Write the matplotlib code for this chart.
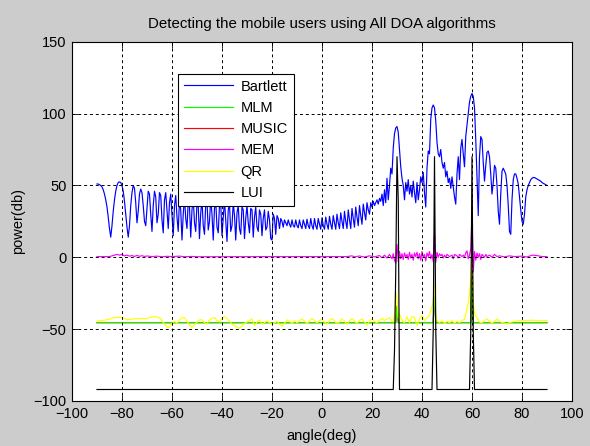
import numpy as np
import matplotlib
matplotlib.use("Agg")
import matplotlib.pyplot as plt

# ---------------- data ----------------
angles = np.arange(-90, 90.5, 0.5)   # angle grid (deg) of the Bartlett spectrum

bartlett = [
    # -90 .. -80.5
    51, 51, 50.5, 50, 49, 47, 44, 40, 35, 28, 20, 14, 22, 32, 40, 46, 50, 52, 52.5, 52,
    # -80 .. -70.5
    50, 46, 39, 30, 21, 14, 22, 36, 45, 50, 48, 38, 24, 32, 44, 47.5, 45, 36, 25, 22,
    # -70 .. -60.5
    34, 46, 44, 30, 18, 36, 46, 42, 24, 30, 45, 43, 26, 17, 40, 45, 32, 20, 38, 44,
    # -60 .. -50.5
    30, 15, 36, 43, 28, 18, 40, 33, 12, 30, 42, 27, 20, 39, 35, 14, 33, 41, 24, 18,
    # -50 .. -40.5
    38, 36, 13, 31, 40, 22, 16, 37, 39, 19, 25, 41, 30, 12, 34, 39, 21, 17, 36, 38,
    # -40 .. -30.5
    15, 28, 40, 26, 11, 33, 37, 18, 22, 38, 29, 12, 31, 36, 20, 16, 35, 33, 13, 27,
    # -30 .. -20.5
    36, 24, 17, 34, 33, 14, 28, 35, 21, 18, 33, 30, 15, 27, 33, 19, 21, 32, 26, 13,
    # -20 .. -10.5
    12, 30, 27, 16, 29, 27, 20, 27, 25, 21, 26, 24, 22, 26, 23, 21, 26, 22, 21, 26,
    # -10 .. -0.5
    22, 20.5, 26, 22, 20, 26, 23, 20, 26.5, 22, 20, 27, 22, 19.5, 27, 22, 19.5, 27, 23, 19.5,
    # 0 .. 9.5
    27.5, 22, 19.5, 28, 23, 19.5, 28.5, 23, 19.5, 29, 24, 19.5, 30, 24, 20, 31, 25, 20, 32, 25,
    # 10 .. 19.5
    20, 33, 26, 20, 34, 27, 21, 35, 28, 22, 36, 29, 23, 37, 31, 26, 38, 33, 30, 38,
    # 20 .. 29.5
    35, 39, 36, 38, 40, 37, 41, 39, 44, 36, 47, 38, 55, 40, 50, 62, 58, 76, 86, 90,
    # 30 .. 39.5
    91, 87, 75, 63, 55, 50, 40, 52, 46, 54, 44, 50, 42, 53, 45, 38, 52, 40, 47, 56,
    # 40 .. 49.5
    52, 59, 45, 35, 62, 74, 72, 96, 104, 106, 104, 95, 80, 72, 70, 75, 66, 62, 66, 56,
    # 50 .. 59.5
    60, 52, 55, 48, 56, 49, 42, 37, 58, 70, 54, 76, 82, 72, 63, 84, 92, 100, 108, 112,
    # 60 .. 69.5
    114, 112, 104, 82, 55, 29, 70, 84, 82, 66, 53, 64, 73, 74, 70, 58, 44, 52, 64, 62,
    # 70 .. 79.5
    50, 32, 23, 44, 60, 62, 60, 58, 50, 36, 18, 16, 40, 54, 58, 58, 55, 51, 42, 33,
    # 80 .. 90
    25, 23, 30, 42, 47, 50, 52, 54, 55, 55.5, 55.5, 55, 54.5, 54, 53.5, 53, 52, 51.5, 51, 50.5, 50,
]

mlm_ang = [-90, 29.5, 30, 30.5, 44.5, 45, 45.5, 59.5, 60, 60.5, 90]
mlm_val = [-45.5, -45.5, -34, -45.5, -45.5, -24, -45.5, -45.5, -14, -45.5, -45.5]

music_ang = [-90, 29.5, 30, 30.5, 44.5, 45, 45.5, 59.5, 60, 60.5, 90]
music_val = [-45.5, -45.5, -34, -45.5, -45.5, -24, -45.5, -45.5, -14, -45.5, -45.5]

mem_ang = [-90, -85, -84, -83, -82, -81, -80, -79, -78, -77, -76, -75, -74, -73, -72, -71,
           -70, -68, -66, -64, -62, -60, -57, -55, -52, -50, -20, 10, 12, 13, 15, 17, 19,
           21, 23, 24, 25, 26, 27, 28, 28.5, 29, 29.5, 30, 30.5, 31, 31.5, 32, 32.5, 33,
           33.5, 34, 34.5, 35, 35.5, 36, 36.5, 37, 37.5, 38, 38.5, 39, 39.5, 40, 40.5, 41,
           41.5, 42, 42.5, 43, 43.5, 44, 44.5, 45, 45.5, 46, 46.5, 47, 47.5, 48, 48.5, 49,
           49.5, 50, 51, 52, 52.5, 53, 54, 54.5, 55, 56, 56.5, 57, 57.5, 58, 58.5, 59, 59.5,
           60, 60.5, 61, 61.5, 62, 62.5, 63, 63.5, 64, 65, 65.5, 66, 67, 68, 69, 70, 71, 73,
           75, 77, 80, 82, 84, 86, 88, 90]
mem_val = [0.5, 0.5, 1, 1.5, 2, 1.5, 2, 1, 1.5, 0.8, 1.2, 0.6, 1.3, 0.7, 1.1, 0.6,
           0.9, 0.5, 0.8, 0.4, 0.7, 0.5, 0.8, 0.4, 0.6, 0.4, 0.5, 0.5, 1, 0.3, 0.9, 0.2, 1.0,
           0.3, 1.2, -0.3, 1.5, -0.5, 2, -1, 2.5, -2, -4, 9, -3, 4, -1, 2.5, -1.5, 3,
           0, 2, -1.5, 3.5, -0.5, 2, -2, 3, 0.5, 3.5, -1, 2.5, -2, 4, 0, 2,
           -2.5, 3, 0.5, 4, -1, 2, -3, 17, -3.5, 3.5, 0, 2.5, 1, 2, -0.5, 1.5,
           0, 2, 0.5, 1.5, -1, 2, 1, -0.5, 2, 0.5, 1.5, 0, 3, 4.5, -1, 1.5, 6,
           28.7, -10, 4, -2, 3, 0, 2.5, -1.5, 2, 0, 2, 0.5, 1.5, 0, 2, 0.5, 1, 0.3,
           1, 0.5, 0.8, 0.2, 1.5, 1.2, 0.5, 0.5]

qr_ang = [-90, -89, -88, -87, -86, -85, -84, -83, -82, -81, -80, -79, -78, -77, -76, -75,
          -74, -73, -72, -71, -70, -69, -68, -67, -66, -65, -64, -63, -62, -61, -60, -59,
          -58, -57, -56, -55, -54, -53, -52, -51, -50, -49, -48, -47, -46, -45, -44, -43,
          -42, -41, -40, -39, -38, -37, -36, -35, -34, -33, -32, -31, -30, -29, -28, -27,
          -26, -25, -24, -23, -22, -21, -20, -19, -18, -17, -16, -15, -14, -13, -12, -11,
          -10, -9, -8, -7, -6, -5, -4, -3, -2, -1, 0, 1, 2, 3, 4, 5, 6, 7, 8, 9, 10, 11,
          12, 13, 14, 15, 16, 17, 18, 19, 20, 21, 22, 23, 24, 25, 26, 27, 28, 28.5, 29,
          29.5, 30, 30.5, 31, 32, 33, 34, 35, 36, 37, 38, 39, 40, 41, 42, 43, 43.5, 44,
          44.5, 45, 45.5, 46, 47, 48, 49, 50, 51, 52, 53, 54, 55, 56, 57, 57.5, 58, 58.5,
          59, 59.5, 60, 60.5, 61, 62, 63, 64, 65, 66, 67, 68, 69, 70, 71, 72, 73, 74, 75,
          76, 77, 78, 79, 80, 82, 84, 86, 88, 90]
qr_val = [-44.2, -44.2, -44, -43.8, -43.5, -43, -42.5, -42, -41.8, -41.9, -42, -42.6, -43.5,
          -43.4, -43, -42.8, -42.8, -42.7, -42.6, -42.6, -42.6, -42, -41.5, -41.3, -41.5,
          -42, -44, -46.5, -48.5, -48.8, -46, -44.5, -45.8, -43.5, -42, -42, -44.5, -47,
          -48.8, -47, -45, -43.5, -43.5, -45.5, -46.5, -43.5, -42.5, -42, -44, -45, -42.5,
          -41.2, -42.5, -44.5, -46.5, -47.7, -48.5, -49.5, -47.5, -46, -45, -44, -43, -47.5,
          -45, -43.5, -46.5, -45.5, -44.2, -45.5, -46.5, -45.5, -44.5, -46.5, -48, -46,
          -43.5, -44.5, -46, -44.2, -45.5, -44, -43, -44.5, -46, -44.5, -42.8, -44, -45.5,
          -44, -43.2, -45, -46.5, -44, -42.5, -44.5, -46, -45, -43, -44.5, -46.5, -44.2,
          -42.8, -44.5, -45.8, -44, -43, -45, -47, -44.5, -43, -44.5, -45.5, -43.8, -42.5,
          -44, -43, -42, -44.5, -45, -40, -23.4, -30, -42, -39.4, -44, -45.4, -41.5, -45.4,
          -41.2, -42, -47.5, -43, -40.5, -44, -42, -40.5, -37, -34.5, -30, -19, -42, -44,
          -45.4, -44.2, -46, -44.5, -45.4, -44, -45.8, -44.5, -45.4, -44, -43, -40, -35.6,
          -32, -25, -15, -1.5, -30, -39.4, -42, -45, -45.5, -44, -43, -44.5, -45.8, -44.5,
          -43, -44.5, -45.4, -45.8, -46.5, -45.4, -45, -44.5, -44.2, -44.2, -44, -44, -43.8,
          -44, -44, -44]

lui_ang = [-90, 28.5, 29, 29.5, 30, 30.5, 31, 44, 44.5, 45, 45.5, 46, 59, 59.5, 60, 60.5, 61, 90]
lui_val = [-92, -92, -65, -10, 70, 40, -92, -92, -50, 70, -50, -92, -92, -52, 70, -52, -92, -92]

x_ticks = [-100, -80, -60, -40, -20, 0, 20, 40, 60, 80, 100]
y_ticks = [-100, -50, 0, 50, 100, 150]

# ---------------- plot ----------------
plt.rcParams['font.family'] = ['Liberation Sans', 'DejaVu Sans']
fig = plt.figure(figsize=(5.90, 4.46), dpi=100, facecolor='#CCCCCC')
ax = fig.add_axes([0.122, 0.1009, 0.8475, 0.8055])
ax.set_facecolor('white')

lw = 0.85
ax.plot(angles, bartlett, color='#0000FF', lw=lw, label='Bartlett', zorder=2.2)
ax.plot(mlm_ang, mlm_val, color='#00FF00', lw=lw, label='MLM', zorder=2.3)
ax.plot(music_ang, music_val, color='#FF0000', lw=lw, label='MUSIC', zorder=2.1)
ax.plot(mem_ang, mem_val, color='#FF00FF', lw=lw, label='MEM', zorder=2.4)
ax.plot(qr_ang, qr_val, color='#FFFF00', lw=lw, label='QR', zorder=2.5)
ax.plot(lui_ang, lui_val, color='black', lw=lw, label='LUI', zorder=2.6)

ax.set_xlim(-100, 100)
ax.set_ylim(-100, 150)
ax.set_xticks(x_ticks)
ax.set_yticks(y_ticks)
ax.tick_params(direction='in', top=True, right=True, length=4, width=0.6,
               labelsize=10.5, colors='black', pad=4)
for s in ax.spines.values():
    s.set_linewidth(0.8)
    s.set_color('black')
ax.grid(True, color='black', linestyle=(0, (3, 3)), linewidth=0.7)
ax.set_axisbelow(False)

ax.set_title('Detecting the mobile users using All DOA algorithms', fontsize=10.8, pad=10)
ax.set_xlabel('angle(deg)', fontsize=10.5, labelpad=6)
ax.set_ylabel('power(db)', fontsize=10.5, labelpad=6)

leg = ax.legend(loc='upper left', bbox_to_anchor=(0.212, 0.911), fontsize=10.5,
                frameon=True, fancybox=False, shadow=False, framealpha=1,
                edgecolor='black', facecolor='white', handlelength=3.4,
                handletextpad=0.5, labelspacing=0.5, borderpad=0.4, borderaxespad=0)
leg.get_frame().set_linewidth(0.8)
leg.set_zorder(5)

fig.savefig('out.png', dpi=100, facecolor=fig.get_facecolor())
